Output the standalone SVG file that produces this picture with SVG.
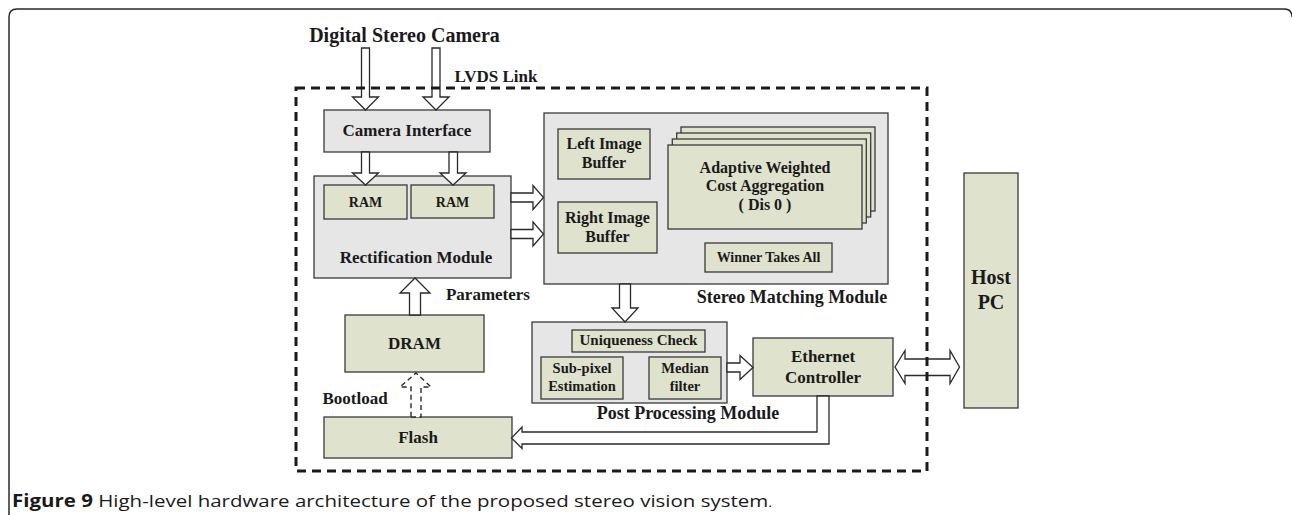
<svg xmlns="http://www.w3.org/2000/svg" width="1292" height="515" viewBox="0 0 1292 515">
<style>
.lbl{font-family:"Liberation Serif","Times New Roman",serif;font-weight:bold;fill:#1a1a1a;text-anchor:middle}
.mod{fill:#e6e6e6;stroke:#3a3a3a;stroke-width:1.3}
.blk{fill:#dfe2cc;stroke:#3a3a3a;stroke-width:1.3}
.arr{fill:#ffffff;stroke:#2a2a2a;stroke-width:1.3;stroke-linejoin:miter}
.darr{fill:#ffffff;stroke:#2a2a2a;stroke-width:1.4;stroke-dasharray:5 3.5}
.cap{font-family:"Open Sans","Noto Sans","DejaVu Sans",sans-serif;fill:#1a1a1a;font-size:17px}
</style>
<rect x="0" y="0" width="1292" height="515" fill="#ffffff"/>
<path d="M9,515 V17 Q9,9 17,9 H1284 Q1292,9 1292,17" fill="none" stroke="#2b2b2b" stroke-width="1.5"/>

<g id="title-camera">
<text class="lbl" x="404.5" y="42" font-size="20">Digital Stereo Camera</text>
</g>
<g id="label-lvds">
<text class="lbl" x="496" y="82" font-size="17">LVDS Link</text>
</g>

<g id="camera-interface">
<rect class="mod" x="324" y="110" width="166" height="42"/>
<text class="lbl" x="407" y="136" font-size="17">Camera Interface</text>
</g>

<g id="rectification-module">
<rect class="mod" x="314" y="176" width="197" height="102"/>
<rect class="blk" x="324" y="185" width="83" height="34"/>
<text class="lbl" x="365.5" y="207" font-size="14">RAM</text>
<rect class="blk" x="411" y="185" width="83" height="33"/>
<text class="lbl" x="452.5" y="207" font-size="14">RAM</text>
<text class="lbl" x="416" y="263" font-size="17">Rectification Module</text>
</g>

<g id="stereo-matching-module">
<rect class="mod" x="544" y="113" width="344" height="171"/>
<rect class="blk" x="558" y="129" width="92" height="50"/>
<text class="lbl" x="604" y="149" font-size="16">Left Image</text>
<text class="lbl" x="604" y="168" font-size="16">Buffer</text>
<rect class="blk" x="558" y="202" width="99" height="51"/>
<text class="lbl" x="607.5" y="223" font-size="16">Right Image</text>
<text class="lbl" x="607.5" y="242" font-size="16">Buffer</text>
<rect class="blk" x="681" y="127" width="194" height="84"/>
<rect class="blk" x="676.7" y="133" width="194" height="84"/>
<rect class="blk" x="672.3" y="139" width="194" height="84"/>
<rect class="blk" x="668" y="145" width="194" height="84"/>
<text class="lbl" x="765" y="173" font-size="16">Adaptive Weighted</text>
<text class="lbl" x="765" y="191" font-size="16">Cost Aggregation</text>
<text class="lbl" x="765" y="210" font-size="16">( Dis 0 )</text>
<rect class="blk" x="705" y="243" width="127" height="29"/>
<text class="lbl" x="768.5" y="262" font-size="14">Winner Takes All</text>
<text class="lbl" x="792" y="303" font-size="18">Stereo Matching Module</text>
</g>

<g id="post-processing-module">
<rect class="mod" x="532" y="322" width="195" height="81"/>
<rect class="blk" x="572" y="330" width="133" height="22"/>
<text class="lbl" x="638.5" y="345" font-size="15">Uniqueness Check</text>
<rect class="blk" x="541" y="357" width="82" height="42"/>
<text class="lbl" x="582" y="373" font-size="14.5">Sub-pixel</text>
<text class="lbl" x="582" y="391" font-size="14.5">Estimation</text>
<rect class="blk" x="649" y="357" width="72" height="42"/>
<text class="lbl" x="685" y="373" font-size="14.5">Median</text>
<text class="lbl" x="685" y="391" font-size="14.5">filter</text>
<text class="lbl" x="688" y="419" font-size="18">Post Processing Module</text>
</g>

<g id="dram">
<rect class="blk" x="345" y="315" width="139" height="57"/>
<text class="lbl" x="414.5" y="349" font-size="17">DRAM</text>
</g>

<g id="flash">
<rect class="blk" x="324" y="417" width="188" height="41"/>
<text class="lbl" x="418" y="443" font-size="17">Flash</text>
</g>

<g id="ethernet-controller">
<rect class="blk" x="753" y="338" width="140" height="58"/>
<text class="lbl" x="823" y="362" font-size="17">Ethernet</text>
<text class="lbl" x="823" y="383" font-size="17">Controller</text>
</g>

<g id="host-pc">
<rect class="blk" x="964" y="173" width="54" height="235"/>
<text class="lbl" x="991" y="284" font-size="20">Host</text>
<text class="lbl" x="991" y="309" font-size="20">PC</text>
</g>

<g id="labels">
<text class="lbl" x="488" y="300" font-size="17">Parameters</text>
<text class="lbl" x="355" y="404" font-size="17">Bootload</text>
</g>

<g id="connectors">
<!-- camera to interface -->
<polygon class="arr" points="361.5,48 369.5,48 369.5,97 378.5,97 365.5,110 352.5,97 361.5,97"/>
<polygon class="arr" points="432,48 440,48 440,97 449,97 436,110 423,97 432,97"/>
<!-- interface to RAMs -->
<polygon class="arr" points="361.5,152 369.5,152 369.5,173 378.5,173 365.5,185 352.5,173 361.5,173"/>
<polygon class="arr" points="449,152 457.5,152 457.5,173 466,173 453,185 440,173 449,173"/>
<!-- DRAM to rectification (up) -->
<polygon class="arr" points="409.5,315 420.5,315 420.5,293 430,293 415,278 400,293 409.5,293"/>
<!-- rectification to stereo -->
<polygon class="arr" points="511,193 533,193 533,185.5 543.5,197.5 533,209.5 533,202 511,202"/>
<polygon class="arr" points="511,229.5 533,229.5 533,222 543.5,234 533,246 533,238.5 511,238.5"/>
<!-- stereo to post -->
<polygon class="arr" points="619.5,284 630.5,284 630.5,308 638,308 625,322 612,308 619.5,308"/>
<!-- post to ethernet -->
<polygon class="arr" points="727,363 740,363 740,355.5 753,367.5 740,379.5 740,372 727,372"/>
<!-- ethernet <-> host -->
<polygon class="arr" points="895,367 905,350.5 905,359 950,359 950,350.5 959.5,367 950,383.5 950,375.5 905,375.5 905,383.5"/>
<!-- ethernet to flash -->
<polygon class="arr" points="817,396 817,432 522,432 522,427 511.5,438 522,448.5 522,444 829,444 829,396"/>
<!-- bootload dashed -->
<polygon class="darr" points="411,417 421,417 421,387 431,387 416,373 400,387 411,387"/>
</g>

<g id="fpga-boundary">
<rect x="296" y="88" width="631" height="383" fill="none" stroke="#1a1a1a" stroke-width="3" stroke-dasharray="9 6"/>
</g>

<g id="caption">
<text class="cap" x="12" y="507" textLength="760" lengthAdjust="spacingAndGlyphs"><tspan font-weight="bold">Figure 9</tspan> High-level hardware architecture of the proposed stereo vision system<tspan font-size="12">.</tspan></text>
</g>
</svg>
